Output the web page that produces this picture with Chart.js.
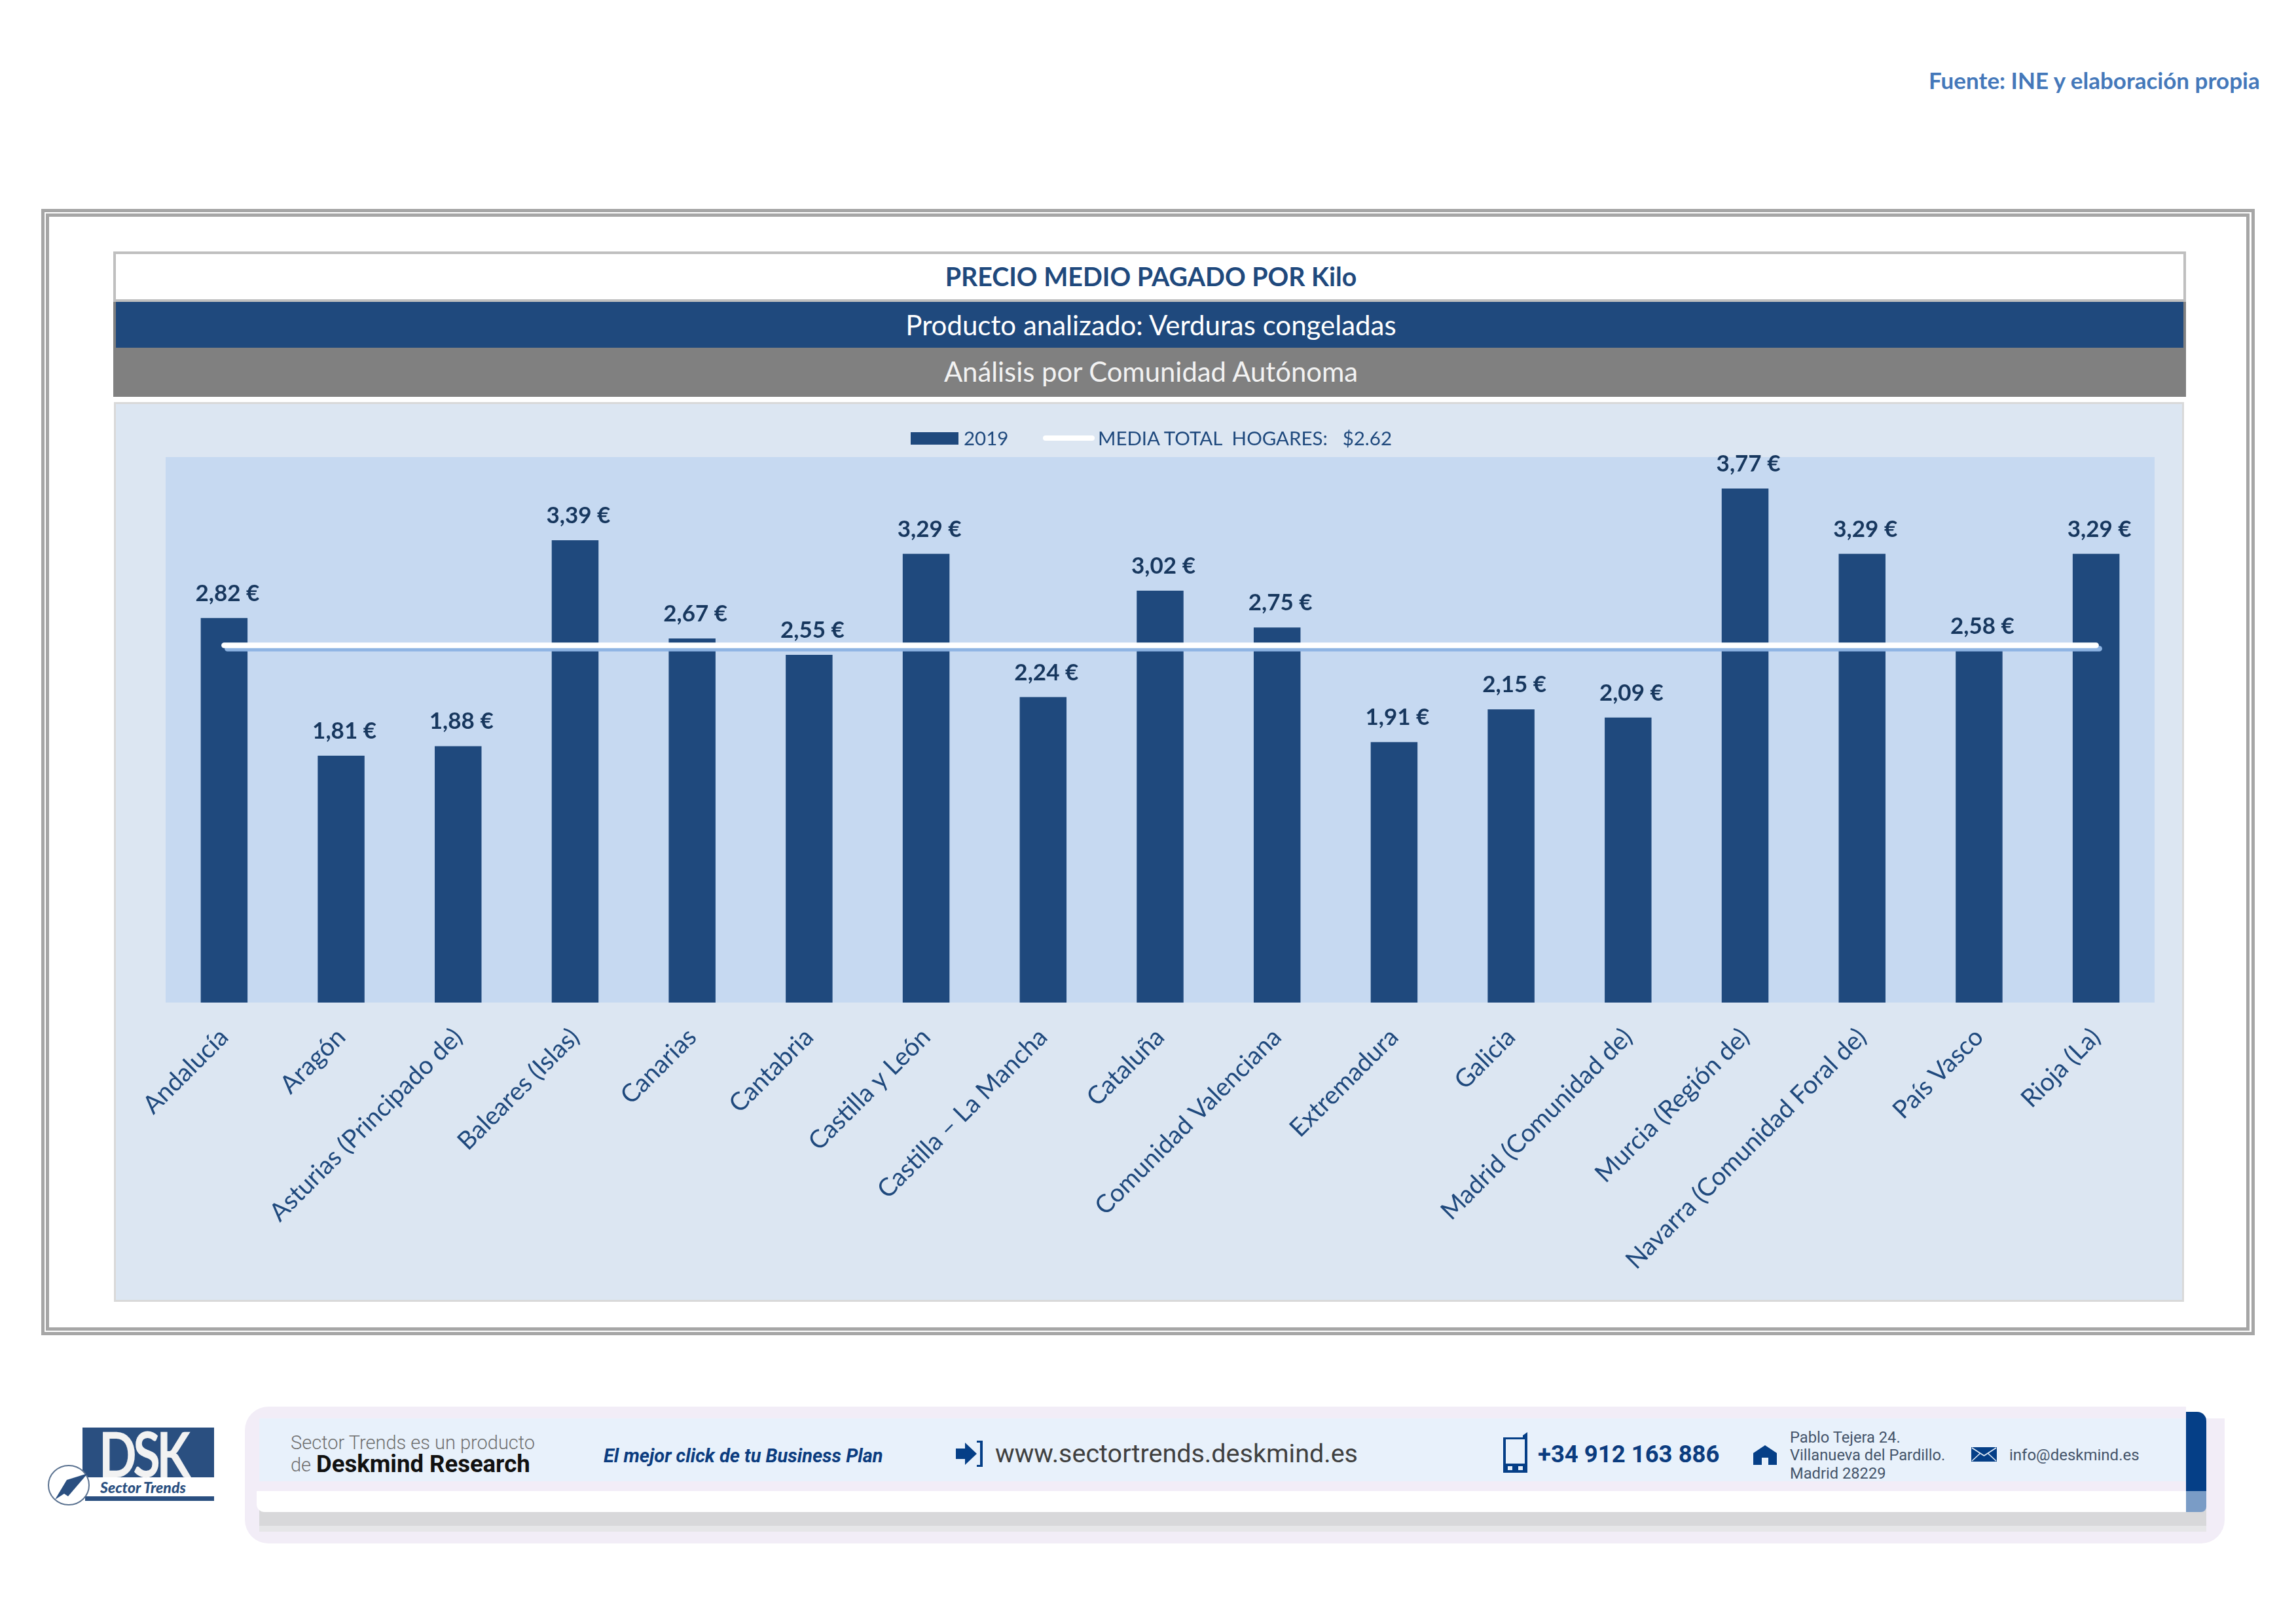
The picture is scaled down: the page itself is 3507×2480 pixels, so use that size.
<!DOCTYPE html>
<html lang="es">
<head>
<meta charset="utf-8">
<title>Precio medio pagado por Kilo</title>
<script src="https://cdn.jsdelivr.net/npm/chart.js@4"></script>
<style>
html,body{margin:0;padding:0;background:#fff;}
#page{position:relative;width:3507px;height:2480px;overflow:hidden;font-family:Lato,sans-serif;}
.a{position:absolute;white-space:pre;line-height:1;}
.box{position:absolute;box-sizing:border-box;}
.r{font-family:Roboto,sans-serif;}
.c{text-align:center;left:178px;width:3160px;}
</style>
</head>
<body>
<div id="page">
	<div class="a" style="left:2946px;top:105px;font-size:35px;font-weight:700;color:#4478BA;">Fuente: INE y elaboración propia</div>

	<!-- doble marco -->
	<div class="box" style="left:63px;top:319px;width:3381px;height:1720px;border:5px solid #A6A6A6;"></div>
	<div class="box" style="left:70px;top:326px;width:3366px;height:1706px;border:5px solid #A6A6A6;"></div>

	<!-- cabecera -->
	<div class="box" style="left:173px;top:384px;width:3166px;height:77px;border:4px solid #BFBFBF;background:#fff;"></div>
	<div class="box" style="left:173px;top:461px;width:3166px;height:145px;background:#808080;"></div>
	<div class="box" style="left:177px;top:461px;width:3158px;height:70px;background:#1F497D;"></div>
	<div class="a c" style="top:402px;font-size:39.300px;font-weight:700;color:#1F497D;">PRECIO MEDIO PAGADO POR Kilo</div>
	<div class="a c" style="top:475px;font-size:42px;color:#fff;">Producto analizado: Verduras congeladas</div>
	<div class="a c" style="top:547px;font-size:41.800px;color:#F2F2F2;">Análisis por Comunidad Autónoma</div>

	<!-- grafico -->
	<div class="box" style="left:174px;top:614px;width:3162px;height:1374px;border:3px solid #D9D9D9;background:#DCE6F2;"></div>
	<div class="box" style="left:178px;top:617px;width:3156px;height:1368px;"><canvas id="myChart1" width="3156" height="1368"></canvas></div>
	<div id="legend"></div>

	<!-- pie -->
	<div class="box" style="left:374px;top:2148px;width:3024px;height:209px;background:#F2EDF7;border-radius:36px 14px 36px 36px;"></div>
	<div class="box" style="left:3339px;top:2140px;width:70px;height:26px;background:#fff;"></div>
	<div class="box" style="left:396px;top:2277px;width:2974px;height:62px;background:#E6E6E8;"></div>
	<div class="box" style="left:396px;top:2277px;width:2974px;height:53px;background:#D8D8DA;"></div>
	<div class="box" style="left:392px;top:2166px;width:2947px;height:111px;background:#F2EDF7;"></div>
	<div class="box" style="left:396px;top:2166px;width:2943px;height:96px;background:#E8F1FB;"></div>
	<div class="box" style="left:392px;top:2277px;width:2947px;height:32px;background:#fff;border-radius:0 0 0 12px;"></div>
	<div class="box" style="left:3339px;top:2156px;width:31px;height:121px;background:#053F87;border-radius:0 14px 0 0;"></div>
	<div class="box" style="left:3339px;top:2277px;width:31px;height:32px;background:#7A9CC6;border-radius:0 0 8px 0;"></div>

	<div class="a r" style="left:444px;top:2189px;font-size:29px;font-weight:300;color:#6F6F6F;">Sector Trends es un producto</div>
	<div class="a r" style="left:444px;top:2223px;font-size:29px;font-weight:300;color:#6F6F6F;">de</div>
	<div class="a r" style="left:483px;top:2218px;font-size:36.500px;font-weight:700;color:#111;">Deskmind Research</div>
	<div class="a r" style="left:922px;top:2209px;font-size:29px;font-weight:700;font-style:italic;color:#0B3C7F;">El mejor click de tu Business Plan</div>
	<svg class="a" style="left:1460px;top:2199px;" width="42" height="42" viewBox="0 0 42 42"><path d="M0 13H14V4L32 21 14 38V29H0Z" fill="#053F87"/><path d="M32 1H41V41H32V38H37V4H32Z" fill="#053F87"/></svg>
	<div class="a r" style="left:1520px;top:2200px;font-size:39.500px;color:#404040;">www.sectortrends.deskmind.es</div>
	<svg class="a" style="left:2296px;top:2187px;" width="38" height="62" viewBox="0 0 38 62"><path d="M0 8H30V5L37 0V62H0Z" fill="#053F87"/><rect x="4" y="11" width="29" height="37" fill="#E8F1FB"/><rect x="7" y="52" width="7" height="6" fill="#E8F1FB"/><rect x="23" y="52" width="7" height="6" fill="#E8F1FB"/></svg>
	<div class="a r" style="left:2349px;top:2203px;font-size:36.500px;font-weight:700;color:#0B3C7F;">+34 912 163 886</div>
	<svg class="a" style="left:2678px;top:2207px;" width="36" height="30" viewBox="0 0 36 30"><path d="M18 0L36 12V30H23V19H13V30H0V12Z" fill="#053F87"/></svg>
	<div class="a r" style="left:2734px;top:2184px;font-size:23.700px;color:#44546A;">Pablo Tejera 24.</div>
	<div class="a r" style="left:2734px;top:2211px;font-size:23.700px;color:#44546A;">Villanueva del Pardillo.</div>
	<div class="a r" style="left:2734px;top:2239px;font-size:23.700px;color:#44546A;">Madrid 28229</div>
	<svg class="a" style="left:3011px;top:2210px;" width="39" height="22" viewBox="0 0 39 22"><rect width="39" height="22" fill="#053F87"/><path d="M1 1L19.500 13 38 1M1 21L14 9M38 21L25 9" fill="none" stroke="#E8F1FB" stroke-width="1.500"/></svg>
	<div class="a r" style="left:3069px;top:2210px;font-size:24px;color:#44546A;">info@deskmind.es</div>

	<!-- logo -->
	<div class="box" style="left:126px;top:2180px;width:201px;height:76px;background:#2A4F80;"></div>
	<div class="a" style="left:151px;top:2172px;font-size:95px;font-weight:700;color:#F2F2F2;letter-spacing:-7px;transform:scaleX(.8);transform-origin:0 0;">DSK</div>
	<div class="a" style="left:153px;top:2260px;font-size:23px;font-weight:900;font-style:italic;color:#2A4F80;">Sector Trends</div>
	<div class="box" style="left:130px;top:2285px;width:197px;height:7px;background:#2A4F80;"></div>
	<svg class="a" style="left:72px;top:2236px;" width="66" height="64" viewBox="0 0 66 64"><ellipse cx="33" cy="32" rx="31" ry="30" fill="#fff" stroke="#5C7391" stroke-width="2"/><path d="M62 14L30 24 12 54 26 45 32 49Z" fill="#2A4F80"/></svg>
</div>

<script>
let categories = ['Andalucía','Aragón','Asturias (Principado de)','Baleares (Islas)','Canarias','Cantabria','Castilla y León','Castilla – La Mancha','Cataluña','Comunidad Valenciana','Extremadura','Galicia','Madrid (Comunidad de)','Murcia (Región de)','Navarra (Comunidad Foral de)','País Vasco','Rioja (La)'];
let values2019 = [2.82,1.81,1.88,3.39,2.67,2.55,3.29,2.24,3.02,2.75,1.91,2.15,2.09,3.77,3.29,2.58,3.29];
let mediaTotal = [2.62,2.62,2.62,2.62,2.62,2.62,2.62,2.62,2.62,2.62,2.62,2.62,2.62,2.62,2.62,2.62,2.62];
let labelBar = '2019';
let labelLine = 'MEDIA TOTAL  HOGARES:   $2.62';

//fondo del area de trazado
const plotBg = {
	id: 'plotBg',
	beforeDraw(chart){
		let a = chart.chartArea;
		chart.ctx.fillStyle = '#C6D9F1';
		chart.ctx.fillRect(a.left, a.top, a.width, a.height);
	}
};

//sombra de la linea de media
const lineShadow = {
	id: 'lineShadow',
	beforeDatasetDraw(chart, args){
		if(args.index != 1){return;}
		let ctx = chart.ctx;
		ctx.save();
		ctx.shadowColor = '#8EB4E3';
		ctx.shadowOffsetX = 5;
		ctx.shadowOffsetY = 5;
		ctx.shadowBlur = 0;
	},
	afterDatasetDraw(chart, args){
		if(args.index != 1){return;}
		chart.ctx.restore();
	}
};

//etiquetas encima de cada barra
const barLabels = {
	id: 'barLabels',
	afterDatasetsDraw(chart){
		let ctx = chart.ctx;
		ctx.save();
		ctx.font = '700 35px Lato';
		ctx.fillStyle = '#17375E';
		ctx.textAlign = 'center';
		ctx.textBaseline = 'alphabetic';
		let bars = chart.getDatasetMeta(0).data;
		for(var i=0;i<bars.length;i=i+1){
			let txt = values2019[i].toFixed(2).replace('.', ',') + ' €';
			ctx.fillText(txt, bars[i].x + 5, bars[i].y - 26);
		}
		ctx.restore();
	}
};

const data = {
	labels: categories,
	datasets: [{
		type: 'bar',
		label: labelBar,
		data: values2019,
		backgroundColor: '#1F497D',
		barPercentage: 0.4,
		categoryPercentage: 1,
		order: 2
	},{
		type: 'line',
		label: labelLine,
		data: mediaTotal,
		borderColor: '#FFFFFF',
		borderWidth: 8.5,
		borderCapStyle: 'round',
		pointRadius: 0,
		tension: 0,
		order: 1
	}]
};

const config = {
	data: data,
	plugins: [plotBg, lineShadow, barLabels],
	options: {
		responsive: false,
		animation: false,
		devicePixelRatio: 1,
		layout: {padding: {left: 75, right: 43, top: 81, bottom: 0}},
		plugins: {legend: {display: false}, tooltip: {enabled: false}},
		scales: {
			x: {
				grid: {display: false},
				border: {display: false},
				afterFit(s){
					s.height = 454;
					s.paddingLeft = 0;
					s.paddingRight = 0;
				},
				ticks: {
					autoSkip: false,
					minRotation: 45,
					maxRotation: 45,
					padding: 22,
					color: '#1F497D',
					font: {family: 'Lato', size: 38.500}
				}
			},
			y: {display: false, min: 0, max: 4}
		}
	}
};

let myChart1 = new Chart(document.getElementById('myChart1'), config);

//leyenda en HTML, el simbolo de la barra y el de la linea tienen medidas distintas
function makeLegend(){
	let html = '';
	html += '<div class="box" style="left:1391px;top:660px;width:73px;height:19px;background:' + data.datasets[0].backgroundColor + ';"></div>';
	html += '<div class="a" style="left:1472px;top:654px;font-size:29.500px;color:#1F497D;">' + data.datasets[0].label + '</div>';
	html += '<div class="box" style="left:1593px;top:665px;width:79px;height:8px;border-radius:4px;background:' + data.datasets[1].borderColor + ';"></div>';
	html += '<div class="a" style="left:1677px;top:654px;font-size:29.500px;color:#1F497D;">' + data.datasets[1].label + '</div>';
	document.getElementById('legend').innerHTML = html;
}
makeLegend();
</script>
</body>
</html>
